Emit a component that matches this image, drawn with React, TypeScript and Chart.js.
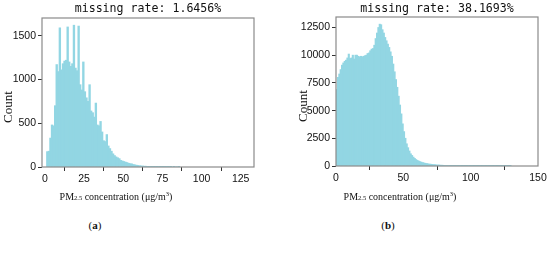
import React, { useEffect, useRef } from "react";
import { Chart, registerables } from "chart.js";

Chart.register(...registerables);

// Left histogram (a): counts per 1 µg/m³ bin, first bin starts at 1
const leftBinStart = 1;
const leftCounts = [
  175, 180, 330, 480, 470, 700, 1170, 1090, 1590, 1110, 1180, 1210, 1220, 1600, 1200, 1150, 1180, 1620, 1130, 1100,
  1610, 940, 880, 1200, 860, 790, 750, 940, 640, 620, 570, 730, 480, 470, 520, 400, 300, 290, 370, 240,
  210, 180, 150, 130, 115, 105, 95, 75, 68, 62, 55, 50, 42, 38, 35, 28, 24, 20, 17, 14,
  12, 10, 9, 8, 7, 6, 5, 4, 4, 3, 3, 2, 2, 2, 1, 1, 1, 1, 1, 1, 0, 1, 0, 0, 1,
];
const leftXTicks = [0, 25, 50, 75, 100, 125];
const leftYTicks = [0, 500, 1000, 1500];
const leftTitle = "missing rate: 1.6456%";

// Right histogram (b): counts per 1 µg/m³ bin, first bin starts at 0
const rightBinStart = 0;
const rightCounts = [
  6900, 8000, 8300, 8700, 9100, 9300, 9450, 9550, 9750, 10100, 9700, 9750, 10000, 9650, 10000, 10000, 9900, 9850, 9900, 9850,
  9900, 9950, 10000, 10150, 10200, 10400, 10550, 10600, 10900, 11500, 12000, 12500, 12800, 12750, 12300, 12000, 11600, 11300, 11000, 10700,
  10300, 9900, 9200, 8500, 7800, 7100, 6300, 5500, 4700, 3800, 3100, 2500, 2000, 1650, 1350, 1100, 950, 800, 680, 580,
  500, 440, 390, 340, 300, 270, 240, 215, 190, 170, 155, 140, 125, 112, 100, 90, 82, 74, 67, 60,
  55, 50, 45, 41, 38, 35, 32, 29, 27, 25, 23, 21, 19, 17, 15, 14, 13, 12, 11, 10,
  9, 8, 8, 7, 7, 6, 6, 5, 5, 5, 4, 4, 4, 3, 3, 3, 3, 2, 2, 2, 2, 2, 2, 1, 1, 1, 1, 1, 1, 1,
];
const rightXTicks = [0, 50, 100, 150];
const rightYTicks = [0, 2500, 5000, 7500, 10000, 12500];
const rightTitle = "missing rate: 38.1693%";

const BAR_COLOR = "#92D6E3";

const framePlugin = {
  id: "frame",
  afterDraw(chart: any) {
    const { ctx, chartArea } = chart;
    const { left, top, right, bottom } = chartArea;
    ctx.save();
    ctx.strokeStyle = "#8a8a8a";
    ctx.lineWidth = 1.2;
    ctx.strokeRect(left, top, right - left, bottom - top);
    ctx.restore();
  },
};

function makeConfig(
  counts: number[],
  binStart: number,
  xMin: number,
  xMax: number,
  yMax: number,
  xTicks: number[],
  yTicks: number[],
  yWidth: number,
  xHeight: number,
  padTop: number,
  padRight: number
): any {
  const points = counts.map((c, i) => ({ x: binStart + i + 0.5, y: c }));
  const tickFont = { family: "'Liberation Sans', Arial, sans-serif", size: 10.5 };
  const fmt = (v: any) => String(v);
  return {
    type: "bar",
    data: {
      datasets: [
        {
          data: points,
          backgroundColor: BAR_COLOR,
          borderWidth: 0,
          barPercentage: 1,
          categoryPercentage: 1,
          inflateAmount: 0.4,
        },
      ],
    },
    options: {
      animation: false,
      responsive: false,
      maintainAspectRatio: false,
      layout: { padding: { top: padTop, right: padRight, left: 0, bottom: 0 } },
      plugins: { legend: { display: false }, tooltip: { enabled: false }, title: { display: false } },
      scales: {
        x: {
          type: "linear",
          min: xMin,
          max: xMax,
          offset: false,
          afterBuildTicks: (s: any) => {
            s.ticks = xTicks.map((v) => ({ value: v }));
          },
          afterFit: (s: any) => {
            s.height = xHeight;
          },
          ticks: { color: "#111", font: tickFont, padding: 2, maxRotation: 0, autoSkip: false, callback: fmt },
          grid: { drawOnChartArea: false, drawTicks: true, tickLength: 4, color: "#333" },
          border: { display: false },
        },
        y: {
          type: "linear",
          min: 0,
          max: yMax,
          afterBuildTicks: (s: any) => {
            s.ticks = yTicks.map((v) => ({ value: v }));
          },
          afterFit: (s: any) => {
            s.width = yWidth;
          },
          ticks: { color: "#111", font: tickFont, padding: 2, autoSkip: false, callback: fmt },
          grid: { drawOnChartArea: false, drawTicks: true, tickLength: 4, color: "#333" },
          border: { display: false },
        },
      },
    },
    plugins: [framePlugin],
  };
}

const serif = "'Liberation Serif', 'Times New Roman', serif";
const mono = "'DejaVu Sans Mono', monospace";

function XLabel({ cx, top }: { cx: number; top: number }) {
  return (
    <div
      style={{
        position: "absolute",
        left: cx - 80,
        width: 160,
        top,
        textAlign: "center",
        fontFamily: serif,
        fontSize: 10,
        lineHeight: "14px",
        color: "#111",
        whiteSpace: "nowrap",
      }}
    >
      PM<span style={{ fontSize: 6.5 }}>2.5</span> concentration (μg/m<sup style={{ fontSize: 6.5, lineHeight: 0 }}>3</sup>)
    </div>
  );
}

function YLabel({ cx, cy }: { cx: number; cy: number }) {
  return (
    <div
      style={{
        position: "absolute",
        left: cx - 30,
        top: cy - 8,
        width: 60,
        height: 16,
        lineHeight: "16px",
        textAlign: "center",
        fontFamily: serif,
        fontSize: 13,
        color: "#111",
        transform: "rotate(-90deg)",
      }}
    >
      Count
    </div>
  );
}

function Title({ cx, text }: { cx: number; text: string }) {
  return (
    <div
      style={{
        position: "absolute",
        left: cx - 110,
        width: 220,
        top: 2,
        textAlign: "center",
        fontFamily: mono,
        fontSize: 11.6,
        lineHeight: "13px",
        color: "#111",
        whiteSpace: "pre",
      }}
    >
      {text}
    </div>
  );
}

function Panel({ cx, top, text }: { cx: number; top: number; text: string }) {
  return (
    <div
      style={{
        position: "absolute",
        left: cx - 20,
        width: 40,
        top,
        textAlign: "center",
        fontFamily: serif,
        fontSize: 11,
        lineHeight: "14px",
        color: "#111",
      }}
    >
      (<b>{text}</b>)
    </div>
  );
}

export default function App() {
  const leftRef = useRef<HTMLCanvasElement | null>(null);
  const rightRef = useRef<HTMLCanvasElement | null>(null);

  useEffect(() => {
    const c1 = new Chart(
      leftRef.current as HTMLCanvasElement,
      makeConfig(leftCounts, leftBinStart, -1.9, 133.5, 1703, leftXTicks, leftYTicks, 42, 23, 18, 16)
    );
    const c2 = new Chart(
      rightRef.current as HTMLCanvasElement,
      makeConfig(rightCounts, rightBinStart, 0, 150, 13450, rightXTicks, rightYTicks, 46, 24, 17, 12)
    );
    return () => {
      c1.destroy();
      c2.destroy();
    };
  }, []);

  return (
    <div style={{ position: "absolute", left: 0, top: 0, width: 550, height: 253, background: "#fff", overflow: "hidden" }}>
      <canvas ref={leftRef} width={270} height={190} style={{ position: "absolute", left: 0, top: 0, width: 270, height: 190 }} />
      <canvas ref={rightRef} width={260} height={190} style={{ position: "absolute", left: 290, top: 0, width: 260, height: 190 }} />
      <Title cx={148} text={leftTitle} />
      <Title cx={437} text={rightTitle} />
      <YLabel cx={8} cy={107} />
      <YLabel cx={303} cy={106} />
      <XLabel cx={116} top={190} />
      <XLabel cx={400} top={190} />
      <Panel cx={95} top={218} text="a" />
      <Panel cx={388} top={218} text="b" />
    </div>
  );
}
